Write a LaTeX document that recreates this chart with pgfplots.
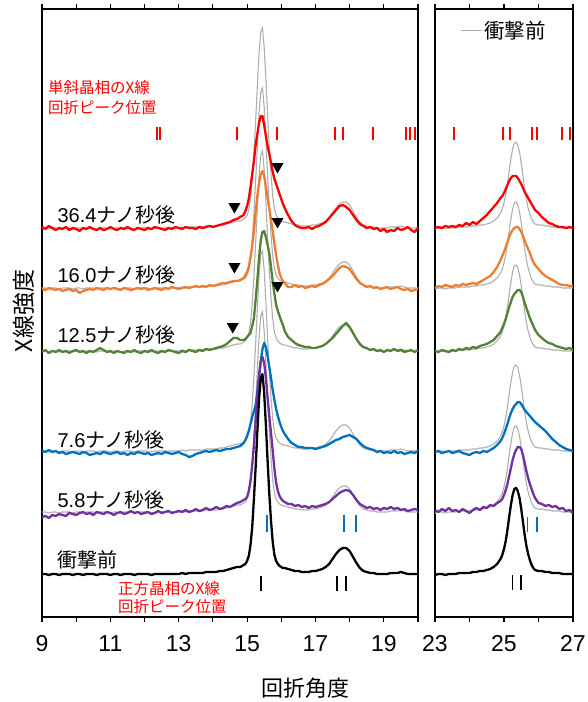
\documentclass[border=0pt]{standalone}
\usepackage{fontspec}
\setmainfont{Liberation Sans}
\newfontfamily\jp{Noto Sans CJK JP}
\usepackage{pgfplots}
\pgfplotsset{compat=1.18}
\usepackage{pgfplotstable}

\definecolor{cred}{RGB}{255,0,0}
\definecolor{corange}{RGB}{237,125,49}
\definecolor{cgreen}{RGB}{84,130,53}
\definecolor{cblue}{RGB}{0,112,192}
\definecolor{cpurple}{RGB}{112,48,160}
\definecolor{cgray}{RGB}{175,175,175}

% intensities relative to each trace's own baseline
% k: before shock, p: 5.8 ns, b: 7.6 ns, g: 12.5 ns, o: 16.0 ns, r: 36.4 ns
\pgfplotstableread{
x k p b g o r
9.0 1 -4 1 0 0 2
9.1 1 -3 0 2 -1 0
9.2 0 -5 2 -1 1 3
9.3 1 -2 0 1 0 1
9.4 1 -3 1 0 -1 -1
9.5 0 -1 -1 2 0 1
9.6 1 -2 0 0 -2 0
9.7 1 -3 -2 1 -1 2
9.8 1 0 -1 -1 0 -1
9.9 0 -1 0 1 -2 1
10.0 1 -2 -1 2 -1 0
10.1 1 0 -2 0 -4 -2
10.2 0 1 0 1 -2 1
10.3 1 -1 -1 -1 -1 0
10.4 1 0 -3 1 0 2
10.5 1 -2 -2 0 -1 0
10.6 0 1 -1 2 1 -1
10.7 1 0 -2 4 0 1
10.8 1 -1 0 2 -1 -1
10.9 1 1 -1 0 1 0
11.0 0 0 -2 1 0 2
11.1 1 -2 -1 -1 1 0
11.2 1 0 0 1 0 -1
11.3 0 1 -2 0 -1 1
11.4 1 -1 -1 -1 1 0
11.5 1 0 -3 1 0 2
11.6 1 2 -1 0 -1 0
11.7 0 0 -2 2 0 -1
11.8 1 1 0 0 1 1
11.9 1 -1 -1 -1 0 0
12.0 1 0 -2 1 1 -1
12.1 1 1 -1 0 -1 1
12.2 0 -1 -3 2 0 0
12.3 1 0 -2 0 1 2
12.4 1 2 -1 -1 0 1
12.5 1 0 -2 1 -1 0
12.6 1 1 0 0 1 -1
12.7 1 2 -1 2 0 1
12.8 1 0 -2 1 2 0
12.9 1 1 -1 0 1 2
13.0 1 2 0 -1 0 1
13.1 2 1 -2 1 1 0
13.2 1 3 -3 0 2 2
13.3 2 1 -5 2 1 1
13.4 2 2 -4 1 2 1
13.5 2 4 -2 0 3 0
13.6 2 2 -1 2 2 2
13.7 2 3 0 1 3 1
13.8 3 5 1 3 2 2
13.9 3 3 0 2 4 3
14.0 3 4 1 3 3 2
14.1 3 6 2 4 4 3
14.2 4 4 1 5 5 4
14.3 4 5 2 6 6 5
14.4 5 7 3 8 6 6
14.5 6 6 3 11 7 7
14.6 7 8 4 14 8 9
14.7 8 10 5 14 8 10
14.8 8 11 6 12 9 12
14.9 10 13 9 12 11 14
14.95 11 14 12 13 14 18
15.0 14 16 16 15 17 23
15.05 19 22 21 17 22 30
15.1 30 32 28 19 32 42
15.15 48 48 35 26 43 55
15.2 76 68 41 34 58 68
15.25 108 92 47 52 77 84
15.3 143 116 60 72 93 95
15.35 176 138 75 94 106 106
15.4 197 152 91 112 115 113
15.45 201 156 103 120 118 113
15.5 182 150 109 121 113 104
15.55 150 135 105 115 102 93
15.6 114 115 96 107 91 83
15.65 81 97 85 99 80 75
15.7 54 80 74 85 69 66
15.75 33 62 62 70 58 57
15.8 20 44 52 58 45 50
15.85 14 30 43 47 34 45
15.9 11 22 36 41 24 40
15.95 9 17 30 36 16 35
16.0 8 14 25 31 11 30
16.05 7 12 21 27 8 25
16.1 7 11 18 21 6 21
16.2 6 9 13 15 2 14
16.3 5 9 9 12 2 8
16.4 4 7 7 9 4 4
16.5 4 8 5 7 2 2
16.6 3 6 5 6 3 1
16.7 3 7 4 5 1 1
16.8 3 5 4 5 2 2
16.9 4 7 4 4 3 0
17.0 4 6 3 4 2 2
17.1 5 7 4 5 4 3
17.2 6 8 5 6 5 5
17.3 8 9 6 8 7 7
17.4 11 11 8 11 10 11
17.5 16 14 10 14 13 15
17.6 21 17 12 18 17 19
17.7 25 20 13 22 21 23
17.8 27 22 15 26 23 24
17.9 27 23 16 29 22 22
18.0 24 22 17 25 20 19
18.1 18 18 15 19 15 14
18.2 12 13 13 13 10 9
18.3 7 9 9 8 6 5
18.4 4 7 6 5 4 3
18.5 3 5 4 4 2 1
18.6 2 6 3 2 3 2
18.7 2 4 2 3 1 0
18.8 1 5 0 1 2 1
18.9 1 3 1 2 0 -2
19.0 1 5 -1 0 1 0
19.1 1 4 0 2 2 -3
19.2 2 6 -1 1 0 -1
19.3 2 4 1 3 1 -2
19.4 2 5 -1 1 2 1
19.5 3 3 0 2 0 -1
19.6 2 4 -2 0 -1 0
19.7 1 2 -1 1 0 2
19.8 1 3 0 2 -2 -1
19.9 1 4 -1 0 -1 -3
20.0 1 3 1 2 0 1
}\lefttab

\pgfplotstableread{
x k p b g o r
23.0 0 3 0 1 1 1
23.1 1 1 1 0 3 2
23.2 1 4 -1 2 2 1
23.3 0 2 0 1 4 3
23.4 1 5 1 0 3 2
23.5 1 2 -1 2 2 3
23.6 1 3 0 1 4 2
23.7 2 1 1 3 3 4
23.8 2 4 -1 2 5 3
23.9 2 2 -2 4 4 6
24.0 2 0 -3 3 5 4
24.1 3 3 -1 5 6 7
24.2 3 5 0 4 5 5
24.3 4 3 -1 6 7 8
24.4 4 6 1 7 9 11
24.5 5 5 0 8 11 14
24.6 6 8 2 10 13 18
24.7 8 7 4 12 17 22
24.8 11 10 7 16 22 26
24.9 16 12 11 20 29 31
24.95 20 14 14 24 33 33
25.0 26 18 18 28 37 36
25.05 34 23 23 33 42 40
25.1 45 29 28 39 47 44
25.15 58 37 34 45 52 48
25.2 70 45 39 50 56 51
25.25 80 53 43 55 59 53
25.3 86 59 46 58 61 53
25.35 87 63 48 60 62 53
25.4 84 66 50 62 62 51
25.45 77 66 50 62 60 48
25.5 66 64 48 60 57 45
25.55 53 58 45 55 53 41
25.6 40 50 42 49 48 37
25.65 29 42 40 44 44 34
25.7 21 35 38 39 40 31
25.75 15 29 36 34 36 28
25.8 10 24 34 30 31 25
25.85 7 19 32 26 27 22
25.9 5 15 30 22 24 19
26.0 4 10 27 17 20 16
26.1 4 9 24 14 16 12
26.2 3 7 21 11 13 9
26.3 3 8 17 9 11 6
26.4 2 6 13 8 9 5
26.5 2 7 10 6 7 3
26.6 2 4 7 5 5 2
26.7 1 5 5 4 4 2
26.8 1 2 3 3 4 1
26.9 1 3 2 4 3 2
27.0 1 0 1 2 3 1
}\righttab

\pgfplotsset{
  panel/.style={
    scale only axis, height=608pt,
    ymin=0, ymax=608, ytick=\empty,
    tick align=outside, major tick length=5pt, minor tick length=5pt,
    axis line style={line width=1.3pt},
    every tick/.style={black, line width=1.1pt},
    ticklabel style={font=\fontsize{23}{27}\selectfont, yshift=-10pt},
    /pgf/number format/assume math mode=true,
  },
  gl/.style={cgray, line width=1.1pt},
  cl/.style={line width=2.3pt, line join=round},
}

\begin{document}
\begin{tikzpicture}
\path[use as bounding box] (-42pt,-85pt) rectangle (545pt,617pt);

\begin{axis}[panel, at={(0pt,0pt)}, anchor=south west, width=376pt,
  xmin=9, xmax=20, xtick={9,11,...,19}, minor xtick={10,12,...,20}]
  % gray copies of the pre-shock pattern
  \addplot[gl] table[x=x, y expr=\thisrow{k}+388] {\lefttab};
  \addplot[gl] table[x=x, y expr=\thisrow{k}+328] {\lefttab};
  \addplot[gl] table[x=x, y expr=\thisrow{k}+265] {\lefttab};
  \addplot[gl] table[x=x, y expr=\thisrow{k}+165] {\lefttab};
  \addplot[gl] table[x=x, y expr=\thisrow{k}+104] {\lefttab};
  % measured patterns
  \addplot[cl, cred]    table[x=x, y expr=\thisrow{r}+388] {\lefttab};
  \addplot[cl, corange] table[x=x, y expr=\thisrow{o}+328] {\lefttab};
  \addplot[cl, cgreen]  table[x=x, y expr=\thisrow{g}+265] {\lefttab};
  \addplot[cl, cblue]   table[x=x, y expr=\thisrow{b}+165] {\lefttab};
  \addplot[cl, cpurple] table[x=x, y expr=\thisrow{p}+104] {\lefttab};
  \addplot[cl, black]   table[x=x, y expr=\thisrow{k}+42]  {\lefttab};
  % peak position ticks
  \addplot[only marks, mark=|, mark size=6.5pt, cred, line width=2pt] coordinates
    {(12.37,483.5) (12.46,483.5) (14.70,483.5) (15.88,483.5) (17.57,483.5) (17.80,483.5) (18.68,483.5) (19.65,483.5) (19.78,483.5) (19.91,483.5)};
  \addplot[only marks, mark=|, mark size=8.5pt, cblue, line width=1.8pt] coordinates
    {(15.59,93.5) (17.83,93.5) (18.18,93.5)};
  \addplot[only marks, mark=|, mark size=7.5pt, black, line width=1.6pt] coordinates
    {(15.41,34) (17.63,34) (17.89,34)};
  % shoulder markers
  \addplot[only marks, mark=triangle*, mark size=6.5pt, black, mark options={rotate=180}] coordinates
    {(14.63,410.5) (15.89,450.5) (14.63,350.5) (15.89,395.5) (14.58,290.5) (15.89,331.5)};
  % labels
  \node[anchor=west, cred, font=\fontsize{15.5}{18}\selectfont\jp, inner sep=0pt] at (axis cs:9.17,529) {単斜晶相のX線};
  \node[anchor=west, cred, font=\fontsize{15.5}{18}\selectfont\jp, inner sep=0pt] at (axis cs:9.17,509) {回折ピーク位置};
  \node[anchor=west, cred, font=\fontsize{15.5}{18}\selectfont\jp, inner sep=0pt] at (axis cs:11.22,28) {正方晶相のX線};
  \node[anchor=west, cred, font=\fontsize{15.5}{18}\selectfont\jp, inner sep=0pt] at (axis cs:11.22,10) {回折ピーク位置};
  \node[anchor=west, inner sep=0pt, font=\fontsize{20}{24}\selectfont] at (axis cs:9.45,402) {36.4{\jp ナノ秒後}};
  \node[anchor=west, inner sep=0pt, font=\fontsize{20}{24}\selectfont] at (axis cs:9.45,342) {16.0{\jp ナノ秒後}};
  \node[anchor=west, inner sep=0pt, font=\fontsize{20}{24}\selectfont] at (axis cs:9.45,282) {12.5{\jp ナノ秒後}};
  \node[anchor=west, inner sep=0pt, font=\fontsize{20}{24}\selectfont] at (axis cs:9.45,177) {7.6{\jp ナノ秒後}};
  \node[anchor=west, inner sep=0pt, font=\fontsize{20}{24}\selectfont] at (axis cs:9.45,117) {5.8{\jp ナノ秒後}};
  \node[anchor=west, inner sep=0pt, font=\fontsize{20}{24}\selectfont\jp] at (axis cs:9.45,57) {衝撃前};
\end{axis}

\begin{axis}[panel, at={(393pt,0pt)}, anchor=south west, width=138pt,
  xmin=23, xmax=27, xtick={23,25,27}, minor xtick={24,26},
  legend style={at={(0.5,0.985)}, anchor=north, draw=none, fill=none,
    font=\fontsize{20.5}{24}\selectfont\jp, inner sep=1pt},
  legend image code/.code={\draw[#1] (0pt,0pt) -- (21pt,0pt);}]
  \addlegendimage{gl}
  \addlegendentry{衝撃前}
  \addplot[gl] table[x=x, y expr=\thisrow{k}+388] {\righttab};
  \addplot[gl] table[x=x, y expr=\thisrow{k}+328] {\righttab};
  \addplot[gl] table[x=x, y expr=\thisrow{k}+265] {\righttab};
  \addplot[gl] table[x=x, y expr=\thisrow{k}+165] {\righttab};
  \addplot[gl] table[x=x, y expr=\thisrow{k}+104] {\righttab};
  \addplot[cl, cred]    table[x=x, y expr=\thisrow{r}+388] {\righttab};
  \addplot[cl, corange] table[x=x, y expr=\thisrow{o}+328] {\righttab};
  \addplot[cl, cgreen]  table[x=x, y expr=\thisrow{g}+265] {\righttab};
  \addplot[cl, cblue]   table[x=x, y expr=\thisrow{b}+165] {\righttab};
  \addplot[cl, cpurple] table[x=x, y expr=\thisrow{p}+104] {\righttab};
  \addplot[cl, black]   table[x=x, y expr=\thisrow{k}+42]  {\righttab};
  \addplot[only marks, mark=|, mark size=6.5pt, cred, line width=2pt] coordinates
    {(23.55,483.5) (24.97,483.5) (25.17,483.5) (25.81,483.5) (25.96,483.5) (26.68,483.5) (26.91,483.5)};
  \addplot[only marks, mark=|, mark size=7.5pt, cblue, line width=1.8pt] coordinates
    {(25.68,92.5) (25.95,92.5)};
  \addplot[only marks, mark=|, mark size=7.5pt, black, line width=1.6pt] coordinates
    {(25.25,34.5) (25.49,34.5)};
\end{axis}

\node[rotate=90, font=\fontsize{23}{27}\selectfont\jp] at (-18pt,306pt) {X線強度};
\node[font=\fontsize{22}{26}\selectfont\jp] at (263pt,-71pt) {回折角度};
\end{tikzpicture}
\end{document}
